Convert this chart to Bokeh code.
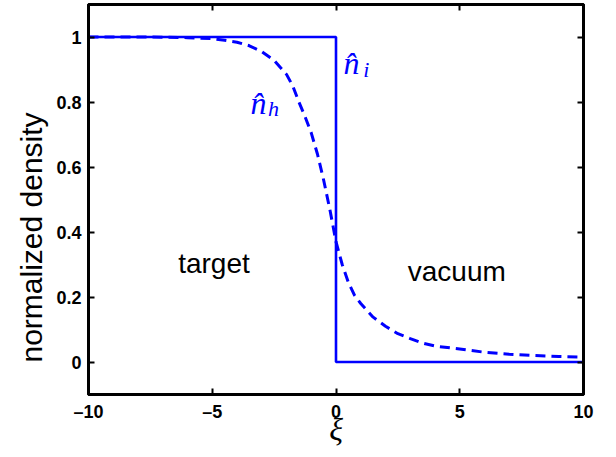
from bokeh.plotting import figure
from bokeh.models import Label, LinearAxis, FixedTicker, Range1d, Title
from bokeh.embed import file_html
from bokeh.resources import INLINE

# ---- data ----
xi_i = [-10, 0, 0, 10]
n_i = [1, 1, 0, 0]

xi_h = [-10, -7.5, -6, -5, -4.5, -4, -3.5, -3, -2.5, -2, -1.75, -1.5, -1.25, -1,
        -0.75, -0.5, -0.25, 0, 0.25, 0.5, 0.75, 1, 1.5, 2, 2.5, 3, 3.5, 4, 5, 6,
        7, 8, 9, 10]
n_h = [1.0, 1.0, 0.998, 0.995, 0.99, 0.984, 0.973, 0.955, 0.928, 0.885, 0.85,
       0.80, 0.755, 0.705, 0.64, 0.56, 0.47, 0.37, 0.30, 0.245, 0.205, 0.18,
       0.138, 0.11, 0.087, 0.072, 0.058, 0.049, 0.04, 0.03, 0.024, 0.02, 0.017,
       0.015]

x_ticks = [-10, -5, 0, 5, 10]
x_tick_labels = ["\u201310", "\u20135", "0", "5", "10"]
y_ticks = [0, 0.2, 0.4, 0.6, 0.8, 1]
y_tick_labels = ["0", "0.2", "0.4", "0.6", "0.8", "1"]

region_labels = [("target", -4.93, 0.303), ("vacuum", 4.88, 0.277)]

BLUE = "#0000ff"

p = figure(width=616, height=457, output_backend="svg", toolbar_location=None,
           x_range=Range1d(-10, 10), y_range=Range1d(-0.1, 1.1),
           min_border_left=88, min_border_right=33, min_border_top=4,
           min_border_bottom=63, x_axis_label="\u03be")
p.background_fill_color = "white"
p.border_fill_color = "white"
p.xgrid.visible = False
p.ygrid.visible = False
p.outline_line_color = "black"
p.outline_line_width = 3

p.line(xi_h, n_h, line_color=BLUE, line_width=3, line_dash="10 6")
p.line(xi_i, n_i, line_color=BLUE, line_width=2.6)

# extra axes for box ticks
p.add_layout(LinearAxis(), "above")
p.add_layout(LinearAxis(), "right")

for ax in p.xaxis:
    ax.ticker = FixedTicker(ticks=x_ticks)
    ax.major_label_overrides = dict(zip(x_ticks, x_tick_labels))
for ax in p.yaxis:
    ax.ticker = FixedTicker(ticks=y_ticks)
    ax.major_label_overrides = dict(zip(y_ticks, y_tick_labels))

for ax in p.xaxis + p.yaxis:
    ax.axis_line_color = "black"
    ax.axis_line_width = 3
    ax.major_tick_line_color = "black"
    ax.major_tick_line_width = 2
    ax.major_tick_in = 6
    ax.major_tick_out = 0
    ax.minor_tick_line_color = None
    ax.major_label_text_font = "Liberation Sans"
    ax.major_label_text_font_style = "bold"
    ax.major_label_text_font_size = "18px"
    ax.major_label_text_color = "black"
    ax.major_label_standoff = 7

p.above[0].major_label_text_alpha = 0
p.above[0].major_label_text_font_size = "1px"
p.above[0].major_label_standoff = 0
p.right[0].major_label_text_alpha = 0
p.right[0].major_label_text_font_size = "1px"
p.right[0].major_label_standoff = 0

xa = p.below[0]
xa.axis_label_text_font = "Liberation Serif"
xa.axis_label_text_font_style = "italic"
xa.axis_label_text_font_size = "32px"
xa.axis_label_standoff = -14
xa.axis_label_text_color = "black"

# y axis title, shifted down as in the reference
p.add_layout(Title(text="normalized density", align="left", offset=32,
                   text_font="Liberation Sans", text_font_size="30px",
                   text_font_style="normal", text_color="black",
                   standoff=12), "left")

for txt, x, y in region_labels:
    p.add_layout(Label(x=x, y=y, text=txt, text_align="center",
                       text_baseline="alphabetic", text_font="Liberation Sans",
                       text_font_size="28px", text_color="black"))

# curve labels  n-hat_h and n-hat_i
p.add_layout(Label(x=-3.45, y=0.796, text="n\u0302", text_font="Liberation Serif",
                   text_font_style="italic", text_font_size="32px",
                   text_color=BLUE, text_baseline="alphabetic"))
p.add_layout(Label(x=-2.75, y=0.78, text="h", text_font="Liberation Serif",
                   text_font_style="italic", text_font_size="22px",
                   text_color=BLUE, text_baseline="alphabetic"))
p.add_layout(Label(x=0.3, y=0.919, text="n\u0302", text_font="Liberation Serif",
                   text_font_style="italic", text_font_size="32px",
                   text_color=BLUE, text_baseline="alphabetic"))
p.add_layout(Label(x=1.1, y=0.9, text="i", text_font="Liberation Serif",
                   text_font_style="italic", text_font_size="22px",
                   text_color=BLUE, text_baseline="alphabetic"))

open("out.html", "w").write(file_html(p, INLINE))
